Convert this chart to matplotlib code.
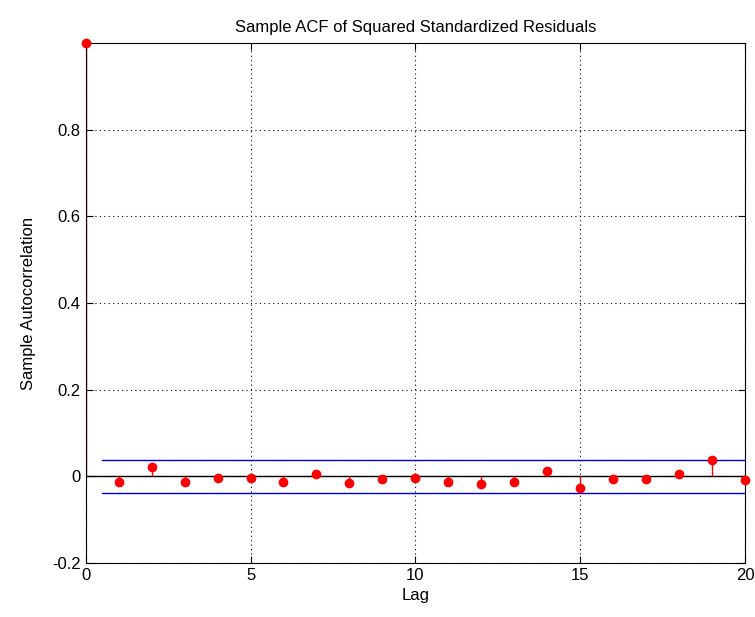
import numpy as np
import matplotlib
matplotlib.use("Agg")
import matplotlib.pyplot as plt

plt.rcParams['font.family'] = ['Liberation Sans', 'DejaVu Sans']

lags = np.arange(0, 21)
acf = [1.0, -0.012, 0.021, -0.012, -0.003, -0.003, -0.012, 0.006, -0.015,
       -0.006, -0.003, -0.012, -0.018, -0.012, 0.012, -0.027, -0.006,
       -0.006, 0.005, 0.038, -0.009]
bound = 0.0378
bound_lags = [0.5, 20]

fig = plt.figure(figsize=(7.55, 6.17), dpi=100)
ax = fig.add_axes([0.1135, 0.0875, 0.8733, 0.8425])

# stems sit under the spines, like the matlab output
ax.axhline(0, color='black', linewidth=1, zorder=2)
ax.vlines(lags, 0, acf, color='red', linewidth=1, zorder=2.2)
ax.plot(lags, acf, 'o', color='red', markersize=6, zorder=4, clip_on=False)
ax.plot(bound_lags, [bound, bound], color='#0000cc', linewidth=1, zorder=2)
ax.plot(bound_lags, [-bound, -bound], color='#0000cc', linewidth=1, zorder=2)

ax.set_xlim(0, 20)
ax.set_ylim(-0.2, 1.0)
ax.set_xticks([0, 5, 10, 15, 20])
ax.set_yticks([-0.2, 0, 0.2, 0.4, 0.6, 0.8])
ax.set_yticklabels(['-0.2', '0', '0.2', '0.4', '0.6', '0.8'])
ax.tick_params(direction='in', length=5, labelsize=12, colors='black')
ax.tick_params(top=True, right=True)
ax.grid(True, linestyle=(0, (1, 3)), color='black', linewidth=0.8)

ax.set_title('Sample ACF of Squared Standardized Residuals', fontsize=12, pad=8)
ax.set_xlabel('Lag', fontsize=12, labelpad=4)
ax.set_ylabel('Sample Autocorrelation', fontsize=12, labelpad=12)

fig.savefig('out.png', dpi=100)
